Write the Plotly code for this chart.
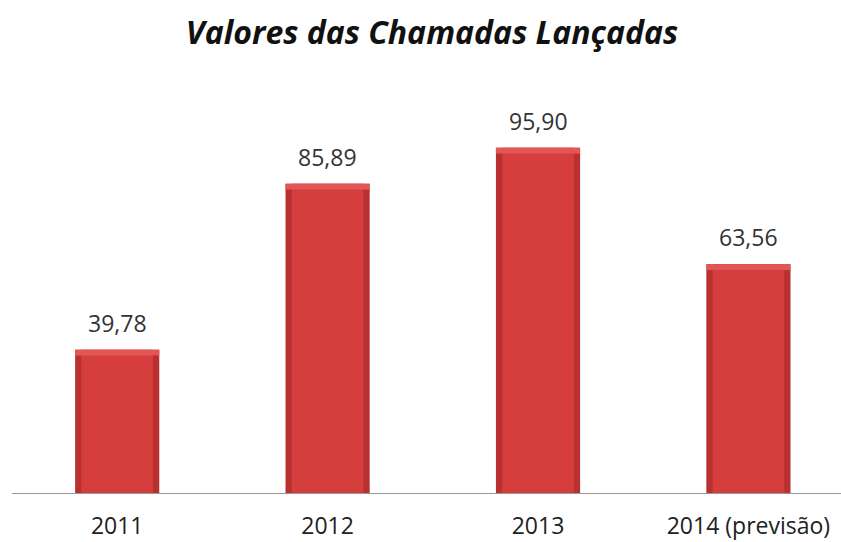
import plotly.graph_objects as go

categories = ["2011", "2012", "2013", "2014 (previsão)"]
values = [39.78, 85.89, 95.90, 63.56]
value_labels = ["39,78", "85,89", "95,90", "63,56"]

bevel = [1.6] * len(values)
bevel_base = [v - b for v, b in zip(values, bevel)]

fig = go.Figure()
fig.add_trace(go.Bar(x=categories, y=values, width=0.4,
                     marker=dict(color="#b83030", line=dict(width=0)),
                     hoverinfo="skip"))
fig.add_trace(go.Bar(x=categories, y=values, width=0.34,
                     marker=dict(color="#d63e3e", line=dict(width=0)),
                     hoverinfo="skip"))
fig.add_trace(go.Bar(x=categories, y=bevel, base=bevel_base, width=0.4,
                     marker=dict(color="#e35656", line=dict(width=0)),
                     hoverinfo="skip"))

for i, (v, t) in enumerate(zip(values, value_labels)):
    fig.add_annotation(x=i, y=v, text=t, showarrow=False, yshift=27,
                       yanchor="middle",
                       font=dict(family="Open Sans", size=23, color="#333333"))

fig.update_layout(
    width=841, height=542,
    barmode="overlay",
    showlegend=False,
    paper_bgcolor="white", plot_bgcolor="white",
    margin=dict(l=12, r=0, t=61, b=49),
    title=dict(text="<b><i>Valores das Chamadas Lançadas</i></b>",
               x=432/841, xanchor="center", xref="container",
               y=1 - 33/542, yanchor="middle", yref="container",
               font=dict(family="Open Sans", size=32, color="#111111")),
    xaxis=dict(type="category", range=[-0.5, 3.44], showline=True,
               linecolor="#999999", linewidth=1, ticks="", showgrid=False,
               zeroline=False, ticklabelstandoff=12, automargin=False,
               tickfont=dict(family="Open Sans", size=23, color="#222222")),
    yaxis=dict(range=[0, 120], visible=False, showgrid=False,
               zeroline=False, automargin=False),
)

fig.write_html("out.html", config={"displayModeBar": False},
               post_script="document.body.style.margin='0';")
